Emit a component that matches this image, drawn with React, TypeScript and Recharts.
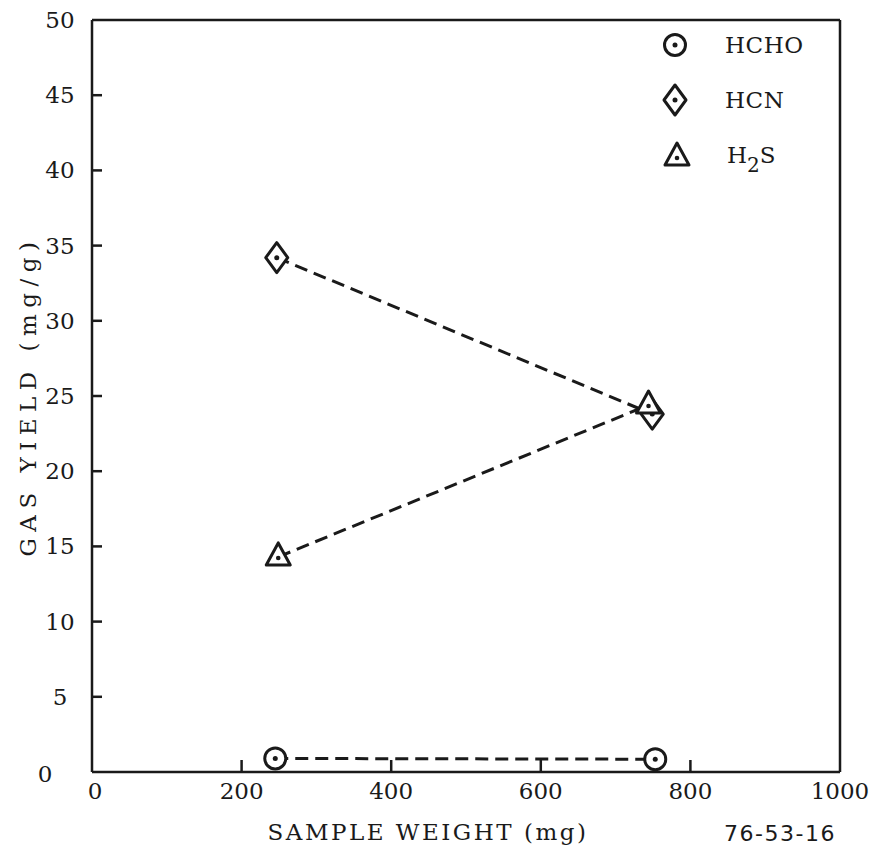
import React from 'react';
import { LineChart, Line, XAxis, YAxis, ReferenceLine, Customized } from 'recharts';

const xTicks = [0, 200, 400, 600, 800, 1000];
const yTicks = [0, 5, 10, 15, 20, 25, 30, 35, 40, 45, 50];

const hchoWeight = [245, 753];
const hchoYield = [0.9, 0.85];
const hcnWeight = [247, 749];
const hcnYield = [34.2, 23.8];
const h2sWeight = [249, 744];
const h2sYield = [14.3, 24.4];

const toRows = (w: number[], v: number[]) => w.map((x, i) => ({ x, y: v[i] }));
const hchoData = toRows(hchoWeight, hchoYield);
const hcnData = toRows(hcnWeight, hcnYield);
const h2sData = toRows(h2sWeight, h2sYield);

const FONT = '"DejaVu Serif", serif';
const INK = '#1a1a1a';

const CircleMark = ({ cx, cy }: any) => (
  <g>
    <circle cx={cx} cy={cy} r={10.5} fill="#fff" stroke={INK} strokeWidth={3} />
    <circle cx={cx} cy={cy} r={2.5} fill={INK} />
  </g>
);
const DiamondMark = ({ cx, cy }: any) => (
  <g>
    <path d={`M${cx},${cy - 15} L${cx + 11},${cy} L${cx},${cy + 15} L${cx - 11},${cy} Z`} fill="#fff" stroke={INK} strokeWidth={3} strokeLinejoin="round" />
    <circle cx={cx} cy={cy} r={2.5} fill={INK} />
  </g>
);
const TriangleMark = ({ cx, cy }: any) => (
  <g>
    <path d={`M${cx},${cy - 14} L${cx + 12},${cy + 8} L${cx - 12},${cy + 8} Z`} fill="#fff" stroke={INK} strokeWidth={3} strokeLinejoin="round" />
    <circle cx={cx} cy={cy + 1} r={2.3} fill={INK} />
  </g>
);

const YTick = ({ x, y, payload }: any) => {
  const v = payload.value;
  const inner = v !== 0 && v !== 50;
  return (
    <g>
      {inner && <line x1={x} y1={y} x2={x + 10} y2={y} stroke={INK} strokeWidth={2.5} />}
      <text x={v === 0 ? x - 47 : x - 32} y={v === 0 ? y + 2 : y} textAnchor="middle" dominantBaseline="central" fontFamily={FONT} fontSize={23} fill={INK}>
        {v}
      </text>
    </g>
  );
};

const XTick = ({ x, y, payload }: any) => {
  const v = payload.value;
  const inner = v !== 0 && v !== 1000;
  return (
    <g>
      {inner && <line x1={x} y1={y} x2={x} y2={y - 12} stroke={INK} strokeWidth={2.5} />}
      <text x={v === 0 ? x + 3 : x} y={y + 19} textAnchor="middle" dominantBaseline="central" fontFamily={FONT} fontSize={23} fill={INK}>
        {v}
      </text>
    </g>
  );
};

const Extras = () => (
  <g>
    <text x={20} y={388} transform="rotate(-90 20 388)" textAnchor="middle" dominantBaseline="central" fontFamily={FONT} fontSize={23} fill={INK} letterSpacing={6.5}>
      GAS YIELD (mg/g)
    </text>
    <text x={420} y={824} textAnchor="middle" dominantBaseline="central" fontFamily={FONT} fontSize={23} fill={INK} letterSpacing={2.5}>
      SAMPLE WEIGHT (mg)
    </text>
    <text x={772} y={825} textAnchor="middle" dominantBaseline="central" fontFamily='"DejaVu Sans", sans-serif' fontSize={22} fill={INK} letterSpacing={1.5}>
      76-53-16
    </text>
    <CircleMark cx={667} cy={37} />
    <text x={717} y={37} dominantBaseline="central" fontFamily={FONT} fontSize={23} fill={INK} letterSpacing={0.5}>HCHO</text>
    <DiamondMark cx={667} cy={92} />
    <text x={717} y={92} dominantBaseline="central" fontFamily={FONT} fontSize={23} fill={INK} letterSpacing={0.5}>HCN</text>
    <TriangleMark cx={669} cy={149} />
    <text x={719} y={147} dominantBaseline="central" fontFamily={FONT} fontSize={23} fill={INK}>
      H<tspan dy={10} fontSize={20}>2</tspan><tspan dy={-10}>S</tspan>
    </text>
  </g>
);

export default function App() {
  return (
    <div style={{ width: 867, height: 839, background: '#fff' }}>
      <LineChart width={867} height={839} margin={{ top: 12, right: 35, bottom: 15, left: 0 }}>
        <XAxis
          dataKey="x"
          type="number"
          domain={[0, 1000]}
          ticks={xTicks}
          tick={<XTick />}
          tickSize={0}
          tickMargin={0}
          tickLine={false}
          axisLine={{ stroke: INK, strokeWidth: 2.5 }}
          height={60}
          allowDataOverflow
        />
        <YAxis
          dataKey="y"
          type="number"
          domain={[0, 50]}
          ticks={yTicks}
          tick={<YTick />}
          tickSize={0}
          tickMargin={0}
          tickLine={false}
          axisLine={{ stroke: INK, strokeWidth: 2.5 }}
          width={84}
          allowDataOverflow
        />
        <ReferenceLine y={50} stroke={INK} strokeWidth={2.5} />
        <ReferenceLine x={1000} stroke={INK} strokeWidth={2.5} />
        <Line data={hchoData} dataKey="y" stroke={INK} strokeWidth={3} strokeDasharray="13 7" dot={<CircleMark />} isAnimationActive={false} />
        <Line data={hcnData} dataKey="y" stroke={INK} strokeWidth={3} strokeDasharray="13 7" dot={<DiamondMark />} isAnimationActive={false} />
        <Line data={h2sData} dataKey="y" stroke={INK} strokeWidth={3} strokeDasharray="13 7" dot={<TriangleMark />} isAnimationActive={false} />
        <Customized component={Extras} />
      </LineChart>
    </div>
  );
}
